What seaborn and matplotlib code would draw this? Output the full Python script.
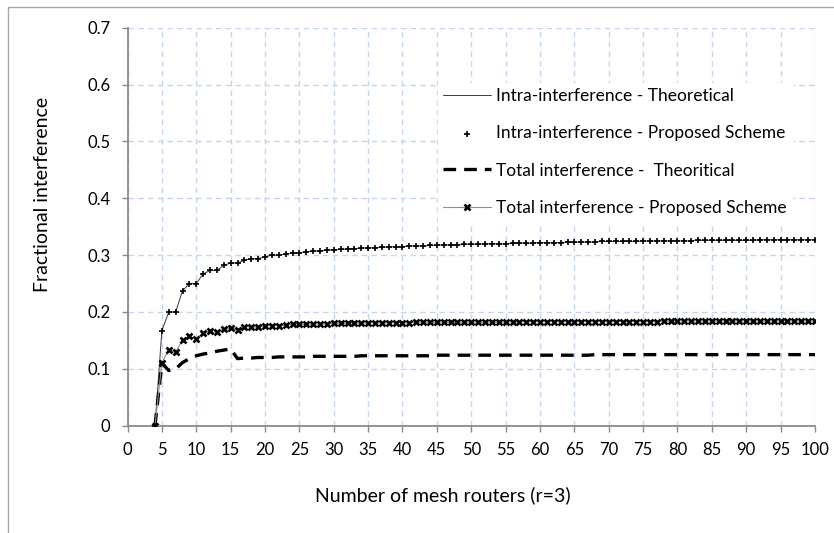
import numpy as np
import pandas as pd
import matplotlib
matplotlib.use("Agg")
import matplotlib.pyplot as plt
import matplotlib.patches as mpatches
import seaborn as sns

# Number of mesh routers
routers = list(range(4, 101))

# Intra-interference (theoretical curve and proposed scheme coincide)
intra = [
    0.000, 0.167, 0.200, 0.200, 0.237, 0.250, 0.250, 0.267, 0.273, 0.273,   # 4-13
    0.282, 0.286, 0.286, 0.291, 0.294, 0.294, 0.297, 0.300, 0.300, 0.302,   # 14-23
    0.304, 0.304, 0.306, 0.307, 0.307, 0.309, 0.309, 0.310, 0.311, 0.311,   # 24-33
    0.312, 0.313, 0.313, 0.314, 0.314, 0.315, 0.315, 0.316, 0.316, 0.316,   # 34-43
    0.317, 0.317, 0.318, 0.318, 0.318, 0.319, 0.319, 0.319, 0.320, 0.320,   # 44-53
    0.320, 0.320, 0.321, 0.321, 0.321, 0.321, 0.322, 0.322, 0.322, 0.322,   # 54-63
    0.323, 0.323, 0.323, 0.323, 0.323, 0.324, 0.324, 0.324, 0.324, 0.324,   # 64-73
    0.324, 0.325, 0.325, 0.325, 0.325, 0.325, 0.325, 0.325, 0.325, 0.326,   # 74-83
    0.326, 0.326, 0.326, 0.326, 0.326, 0.326, 0.326, 0.326, 0.327, 0.327,   # 84-93
    0.327, 0.327, 0.327, 0.327, 0.327, 0.327, 0.327,                        # 94-100
]

# Total interference - theoretical
total_theory = [
    0.000, 0.110, 0.097, 0.100, 0.111, 0.118, 0.123, 0.126, 0.128, 0.131,   # 4-13
    0.133, 0.135, 0.118, 0.119, 0.119, 0.120, 0.120, 0.120, 0.121, 0.121,   # 14-23
    0.121, 0.121, 0.121, 0.122, 0.122, 0.122, 0.122, 0.122, 0.122, 0.122,   # 24-33
    0.123, 0.123, 0.123, 0.123, 0.123, 0.123, 0.123, 0.123, 0.123, 0.123,   # 34-43
    0.123, 0.124, 0.124, 0.124, 0.124, 0.124, 0.124, 0.124, 0.124, 0.124,   # 44-53
    0.124, 0.124, 0.124, 0.124, 0.124, 0.124, 0.124, 0.124, 0.124, 0.124,   # 54-63
    0.124, 0.124, 0.124, 0.124, 0.125, 0.125, 0.125, 0.125, 0.125, 0.125,   # 64-73
    0.125, 0.125, 0.125, 0.125, 0.125, 0.125, 0.125, 0.125, 0.125, 0.125,   # 74-83
    0.125, 0.125, 0.125, 0.125, 0.125, 0.125, 0.125, 0.125, 0.125, 0.125,   # 84-93
    0.125, 0.125, 0.125, 0.125, 0.125, 0.125, 0.125,                        # 94-100
]

# Total interference - proposed scheme
total_proposed = [
    0.000, 0.111, 0.133, 0.129, 0.151, 0.157, 0.153, 0.163, 0.166, 0.164,   # 4-13
    0.170, 0.171, 0.169, 0.174, 0.174, 0.173, 0.176, 0.176, 0.176, 0.177,   # 14-23
    0.178, 0.178, 0.178, 0.179, 0.179, 0.179, 0.180, 0.180, 0.180, 0.180,   # 24-33
    0.181, 0.181, 0.181, 0.181, 0.181, 0.181, 0.181, 0.181, 0.182, 0.182,   # 34-43
    0.182, 0.182, 0.182, 0.182, 0.182, 0.182, 0.182, 0.182, 0.182, 0.182,   # 44-53
    0.182, 0.182, 0.183, 0.183, 0.183, 0.183, 0.183, 0.183, 0.183, 0.183,   # 54-63
    0.183, 0.183, 0.183, 0.183, 0.183, 0.183, 0.183, 0.183, 0.183, 0.183,   # 64-73
    0.183, 0.183, 0.183, 0.183, 0.184, 0.184, 0.184, 0.184, 0.184, 0.184,   # 74-83
    0.184, 0.184, 0.184, 0.184, 0.184, 0.184, 0.184, 0.184, 0.184, 0.184,   # 84-93
    0.184, 0.184, 0.184, 0.184, 0.184, 0.184, 0.184,                        # 94-100
]

labels = [
    "Intra-interference - Theoretical",
    "Intra-interference - Proposed Scheme",
    "Total interference -  Theoritical",
    "Total interference - Proposed Scheme",
]
x_ticks = list(range(0, 101, 5))
y_ticks = [0, 0.1, 0.2, 0.3, 0.4, 0.5, 0.6, 0.7]
y_tick_labels = ["0", "0.1", "0.2", "0.3", "0.4", "0.5", "0.6", "0.7"]

sns.set_theme(style="white")
plt.rcParams["font.family"] = ["Lato", "DejaVu Sans"]

df = pd.DataFrame({
    "routers": routers,
    "intra": intra,
    "total_theory": total_theory,
    "total_proposed": total_proposed,
})

fig = plt.figure(figsize=(8.34, 5.33), dpi=100)
fig.patch.set_facecolor("white")
ax = fig.add_axes([127.5 / 834, 1 - 425.7 / 533, 687.5 / 834, 398 / 533])

# outer chart border
fig.patches.append(mpatches.Rectangle((8 / 834, -0.1), 1.2, 1.1 - 7 / 533,
                                      transform=fig.transFigure, fill=False,
                                      edgecolor="#a6a6a6", linewidth=1.0))

sns.lineplot(data=df, x="routers", y="intra", ax=ax, color="#3a3a3a",
             linewidth=0.7, label=labels[0])
sns.scatterplot(data=df, x="routers", y="intra", ax=ax, color="black",
                marker="+", s=18, linewidth=1.2, label=labels[1], zorder=3)
sns.lineplot(data=df, x="routers", y="total_theory", ax=ax, color="black",
             linewidth=2.4, linestyle=(0, (3.8, 2.4)), label=labels[2])
sns.lineplot(data=df, x="routers", y="total_proposed", ax=ax, color="#8c8c8c",
             linewidth=0.8, marker="x", markersize=4.5, markeredgewidth=1.9,
             markeredgecolor="black", markerfacecolor="black", label=labels[3])

ax.set_xlim(0, 100)
ax.set_ylim(0, 0.7)
ax.set_xticks(x_ticks)
ax.set_xticklabels([str(t) for t in x_ticks])
ax.set_yticks(y_ticks)
ax.set_yticklabels(y_tick_labels)

ax.grid(True, color="#c6d5ee", linestyle=(0, (4, 3)), linewidth=1.0)
ax.set_axisbelow(True)
for side in ["top", "right"]:
    ax.spines[side].set_visible(False)
for side in ["left", "bottom"]:
    ax.spines[side].set_color("#8a8a8a")
    ax.spines[side].set_linewidth(1.3)

ax.tick_params(axis="both", which="major", direction="out", length=4.5,
               width=1.0, color="#8a8a8a", labelsize=12, labelcolor="black",
               left=True, bottom=True)
ax.tick_params(axis="y", pad=8)
ax.tick_params(axis="x", pad=7)

ax.set_xlabel("Number of mesh routers (r=3)", fontsize=14, color="black")
ax.set_ylabel("Fractional interference", fontsize=14, color="black")
ax.xaxis.set_label_coords(0.459, -0.153)
ax.yaxis.set_label_coords(-0.111, 0.58)

leg = ax.legend(loc="upper left", bbox_to_anchor=(438 / 834, 1 - 83 / 533),
                bbox_transform=fig.transFigure, frameon=True, fancybox=False,
                fontsize=12.5, handlelength=2.75, handletextpad=0.3,
                labelspacing=1.22, borderpad=0.3, borderaxespad=0,
                scatterpoints=1)
leg.get_frame().set_facecolor("white")
leg.get_frame().set_edgecolor("white")
leg.get_frame().set_alpha(1.0)
for txt in leg.get_texts():
    txt.set_color("black")

fig.savefig("out.png", dpi=100, facecolor="white")
